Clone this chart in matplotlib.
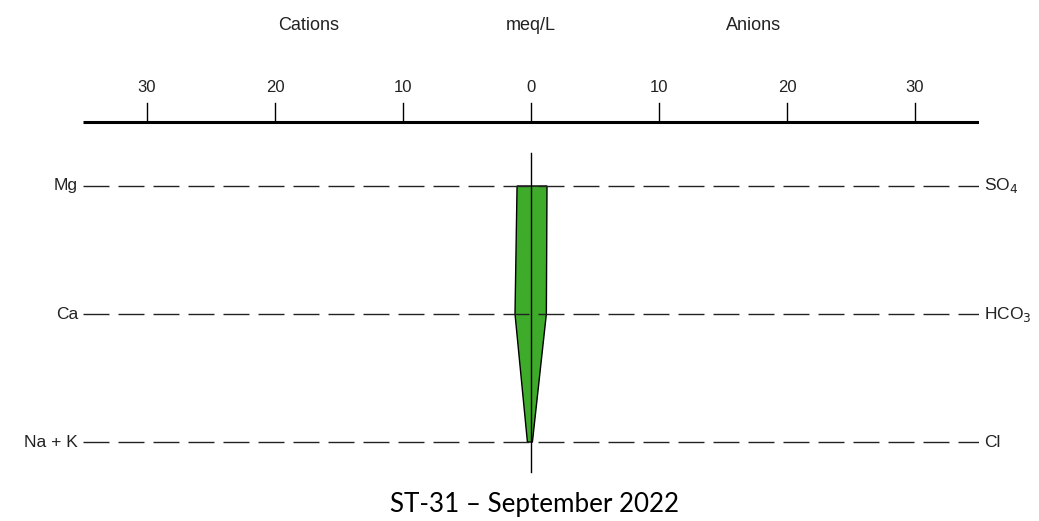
import matplotlib
matplotlib.use("Agg")
import matplotlib.pyplot as plt

# Stiff diagram values (meq/L)
cation_labels = ["Na + K", "Ca", "Mg"]
cation_values = [0.28, 1.25, 1.09]
anion_labels = ["Cl", "HCO$_3$", "SO$_4$"]
anion_values = [0.11, 1.20, 1.25]
tick_values = [-30, -20, -10, 0, 10, 20, 30]
tick_labels = ["30", "20", "10", "0", "10", "20", "30"]
title = "ST-31 \u2013 September 2022"

W, H = 1039, 521
fig = plt.figure(figsize=(W / 100, H / 100), dpi=100)
ax = fig.add_axes([83 / W, 0, 896 / W, 1])
ax.set_xlim(-35, 35)
ax.set_ylim(-0.617, 3.453)
ax.axis("off")

sans = "Liberation Sans"
ink = "#222222"
levels = list(range(len(cation_values)))

# polygon: cations on the left, anions on the right
xs = [-v for v in cation_values] + [v for v in anion_values[::-1]]
ys = levels + levels[::-1]
ax.fill(xs, ys, facecolor="#3fab2b", edgecolor="black", linewidth=1.0, zorder=2)

# dashed guide lines and ion labels
for y, cl, al in zip(levels, cation_labels, anion_labels):
    ax.plot([-35, 35], [y, y], color=ink, linewidth=1.0,
            dashes=(18.7, 6.5), zorder=3)
    ax.text(-35.4, y, cl, ha="right", va="center", fontsize=12.5,
            family=sans, color=ink)
    ax.text(35.4, y, al, ha="left", va="center", fontsize=12.5,
            family=sans, color=ink)

# zero line
ax.plot([0, 0], [-0.234, 2.26], color="black", linewidth=1.0, zorder=4)

# top scale
ax.plot([-35, 35], [2.5, 2.5], color="black", linewidth=2.2,
        solid_capstyle="butt")
for t, lab in zip(tick_values, tick_labels):
    ax.plot([t, t], [2.5, 2.645], color="black", linewidth=1.0)
    ax.text(t, 2.77, lab, ha="center", va="center", fontsize=12,
            family=sans, color=ink)

ax.text(-17.4, 3.25, "Cations", ha="center", va="center", fontsize=13,
        family=sans, color=ink)
ax.text(0, 3.25, "meq/L", ha="center", va="center", fontsize=13,
        family=sans, color=ink)
ax.text(17.4, 3.25, "Anions", ha="center", va="center", fontsize=13,
        family=sans, color=ink)

ax.text(0.3, -0.49, title, ha="center", va="center", fontsize=18.7,
        family="Lato", color="black")

fig.savefig("out.png", dpi=100)
